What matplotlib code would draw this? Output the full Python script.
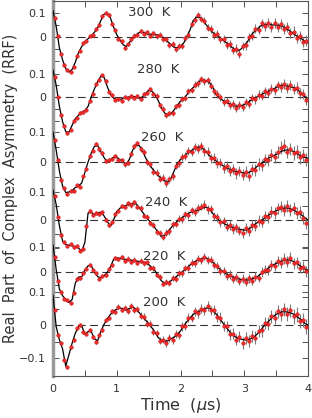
import matplotlib.pyplot as plt
import numpy as np

plt.rcParams['font.family'] = 'DejaVu Sans'
plt.rcParams['font.size'] = 8

temps = ['300  K', '280  K', '260  K', '240  K', '220  K', '200  K']

# fit curves, sampled every 0.05 us from 0 to 4 (units of 0.001)
fit_300 = [110, 45, -45, -95, -132, -146, -135, -105, -65, -40, -20, -7, 5, 20, 38, 68, 95, 98, 80, 42,
           10, -13, -32, -40, -22, -5, 8, 18, 20, 15, 12, 10, 10, 8, 2, -8, -20, -32, -42, -45,
           -38, -25, 0, 30, 68, 83, 82, 72, 52, 35, 20, 10, 2, -10, -20, -30, -42, -52, -58, -50,
           -35, -20, 5, 20, 32, 45, 50, 52, 52, 50, 50, 48, 45, 35, 28, 18, 8, 0, -8, -18, -25]
fit_280 = [115, 50, -40, -105, -148, -150, -120, -92, -78, -65, -58, -40, 0, 35, 65, 88, 85, 45, 12, -5,
           -12, -12, -5, -3, 0, 3, 0, -5, 0, 15, 28, 25, 10, -15, -45, -68, -77, -72, -55, -35,
           -18, -8, 10, 28, 40, 55, 68, 72, 70, 62, 45, 15, -2, -12, -20, -27, -33, -38, -40, -38,
           -32, -25, -15, -8, 0, 8, 15, 20, 27, 33, 40, 47, 50, 48, 45, 42, 38, 28, 15, 2, -13]
fit_260 = [100, 40, -30, -80, -102, -100, -95, -85, -80, -70, -35, 0, 30, 52, 55, 35, 15, 0, 8, 16,
           15, 8, 0, -8, 10, 40, 57, 55, 40, 15, -5, -20, -33, -45, -55, -63, -67, -55, -30, -5,
           8, 18, 28, 35, 42, 48, 50, 45, 35, 22, 13, 5, -3, -10, -17, -22, -27, -31, -33, -35,
           -37, -37, -32, -25, -15, -7, 0, 8, 15, 20, 25, 32, 37, 40, 40, 37, 32, 25, 18, 15, 13]
fit_240 = [107, 55, -20, -75, -88, -90, -92, -96, -100, -112, -80, 25, 28, 18, 25, 28, 15, -5, -22, 0,
           30, 42, 48, 53, 56, 58, 58, 45, 30, 12, 0, -15, -28, -45, -58, -55, -42, -28, -15, -5,
           5, 12, 20, 27, 30, 33, 37, 43, 46, 40, 25, 12, 0, -8, -15, -20, -25, -29, -32, -34,
           -36, -35, -28, -18, -10, -3, 3, 12, 20, 27, 33, 38, 41, 43, 42, 38, 32, 25, 18, 8, 0]
fit_220 = [108, 10, -68, -95, -110, -122, -110, -45, -20, -20, 8, 25, 25, 0, -18, -24, -15, -2, 20, 50,
           56, 55, 52, 50, 48, 46, 44, 42, 40, 38, 30, 18, 5, -15, -35, -46, -45, -35, -25, -15,
           -5, 5, 15, 28, 38, 45, 50, 54, 56, 50, 40, 28, 15, 5, -5, -12, -18, -23, -27, -30,
           -32, -32, -30, -25, -20, -10, 0, 10, 20, 28, 34, 40, 45, 48, 48, 45, 38, 30, 20, 12, 8]
fit_200 = [90, -5, -45, -72, -125, -90, -55, -25, -5, -2, -28, -20, -20, -42, -48, -20, 2, 18, 32, 42,
           48, 52, 48, 45, 50, 55, 48, 38, 26, 15, 5, -8, -22, -38, -46, -50, -48, -42, -37, -28,
           -18, -3, 10, 22, 32, 38, 42, 47, 51, 52, 45, 35, 24, 10, -3, -15, -27, -35, -40, -43,
           -45, -45, -42, -37, -28, -18, -5, 5, 15, 25, 32, 37, 40, 40, 38, 35, 30, 22, 15, 5, 0]

# measured points at 0.025 + 0.05*k us (units of 0.001)
data_300 = [80, 5, -72, -118, -136, -145, -126, -80, -58, -25, -18, 4, 8, 34, 48, 88, 102, 92, 55, 30,
            -8, -18, -45, -28, -10, 6, 10, 25, 14, 20, 6, 15, 3, 10, -8, -10, -32, -30, -52, -38,
            -36, -5, 10, 55, 72, 92, 75, 68, 38, 33, 8, 12, -10, -8, -32, -30, -55, -48, -70, -38,
            -35, -2, 5, 35, 30, 58, 45, 60, 42, 58, 40, 55, 32, 40, 15, 22, -5, 5, -20, -15]
data_280 = [85, 0, -78, -122, -155, -140, -100, -90, -66, -65, -55, -15, 12, 55, 72, 92, 70, 22, 8, -14,
            -8, -15, 2, -6, 5, -4, 3, -8, 12, 18, 32, 12, 4, -36, -50, -78, -70, -68, -40, -32,
            -8, -4, 24, 30, 52, 58, 76, 66, 72, 48, 25, 12, -2, -22, -15, -36, -30, -48, -34, -42,
            -22, -28, -5, -10, 10, 5, 24, 18, 36, 30, 50, 42, 56, 40, 50, 35, 40, 15, 14, -12]
data_260 = [72, 8, -60, -88, -106, -95, -96, -78, -82, -48, -22, 20, 38, 60, 42, 30, 4, 8, 10, 20,
            8, 6, -8, -2, 28, 52, 62, 45, 32, 0, -8, -32, -35, -55, -52, -70, -58, -48, -12, -3,
            18, 20, 36, 34, 50, 45, 54, 36, 34, 12, 14, -4, -2, -20, -14, -30, -24, -38, -30, -42,
            -32, -45, -24, -26, -6, -10, 9, 6, 24, 18, 35, 48, 55, 34, 44, 30, 35, 16, 22, 8]
data_240 = [85, 12, -52, -78, -94, -86, -98, -92, -110, -102, -20, 32, 18, 26, 22, 28, 0, -18, -6, 20,
            32, 50, 46, 60, 52, 64, 48, 42, 16, 10, -12, -18, -42, -48, -62, -45, -40, -16, -14, 5,
            4, 20, 18, 34, 28, 42, 48, 55, 38, 40, 14, 10, -8, -5, -24, -18, -32, -26, -38, -45,
            -30, -40, -18, -20, -2, -6, 14, 10, 30, 25, 42, 48, 36, 50, 35, 42, 24, 28, 8, -10]
data_220 = [62, -35, -78, -108, -112, -124, -82, -28, -25, -2, 14, 30, 8, -5, -26, -16, -12, 14, 30, 58,
            52, 60, 46, 54, 42, 50, 38, 46, 35, 40, 18, 16, -10, -20, -46, -40, -45, -25, -26, -5,
            -5, 16, 18, 38, 36, 54, 47, 62, 48, 50, 28, 26, 4, 5, -14, -10, -28, -20, -35, -26,
            -38, -25, -34, -18, -22, 0, 10, 8, 30, 26, 44, 38, 54, 42, 58, 36, 40, 18, 22, 4]
data_200 = [45, -30, -55, -105, -128, -68, -45, -10, 0, -20, -28, -15, -36, -50, -30, -14, 15, 22, 42, 40,
            55, 46, 52, 42, 58, 46, 48, 28, 25, 4, 4, -20, -25, -48, -44, -55, -40, -46, -28, -30,
            -4, -2, 22, 22, 42, 35, 50, 44, 58, 44, 46, 24, 22, -3, -4, -28, -26, -44, -36, -55,
            -40, -48, -34, -38, -18, -16, 6, 4, 26, 22, 42, 32, 47, 34, 44, 26, 32, 12, 15, -5]
errs = [4, 4, 4, 5, 5, 5, 5, 5, 6, 6, 6, 6, 6, 7, 7, 7, 7, 7, 8, 8,
        8, 8, 8, 9, 9, 9, 9, 10, 10, 10, 10, 11, 11, 11, 11, 12, 12, 12, 12, 13,
        13, 13, 13, 14, 14, 14, 14, 15, 15, 15, 15, 16, 16, 16, 16, 17, 17, 17, 17, 18,
        18, 18, 18, 19, 19, 19, 19, 20, 20, 20, 20, 21, 21, 21, 21, 22, 22, 22, 22, 22]

fits = [fit_300, fit_280, fit_260, fit_240, fit_220, fit_200]
datas = [data_300, data_280, data_260, data_240, data_220, data_200]

# stacking: vertical position of each zero line and its scale (in axis units per asymmetry unit)
zero_pos = [37, 97, 162, 220, 272, 325]
scale = [240, 235, 300, 280, 250, 330]
label_x = [1.17, 1.31, 1.375, 1.44, 1.41, 1.41]
label_y = [0.1, 0.115, 0.083, 0.064, 0.06, 0.067]

t_fit = np.arange(81) * 0.05
t_data = 0.025 + np.arange(80) * 0.05
err = np.array(errs) / 1000

fig = plt.figure(figsize=(3.12, 4.18), dpi=100)
ax = fig.add_axes([53 / 312, 42 / 418, 255 / 312, 375 / 418])

major_pos, major_lab, minor_pos = [], [], []
for i in range(6):
    z, s = zero_pos[i], scale[i]
    yd = -z + s * np.array(datas[i]) / 1000
    yf = -z + s * np.array(fits[i]) / 1000
    ax.axhline(-z, color='#333333', lw=0.8, ls=(0, (7, 4)), zorder=1)
    ax.errorbar(t_data, yd, yerr=s * err, fmt='none', ecolor='#7a7a7a',
                elinewidth=0.8, capsize=0, zorder=2)
    ax.plot(t_fit, yf, color='black', lw=0.9, zorder=3)
    ax.plot(t_data, yd, 'o', ms=2.6, color='#ee2a2a', mec='#c01010', mew=0.3, zorder=4)
    ax.text(label_x[i], -z + s * label_y[i], temps[i], fontsize=9.5, color='#333333',
            va='center', ha='left')
    major_pos += [-z + s * 0.1, -z]
    major_lab += ['0.1', '0']
    minor_pos += [-z + s * 0.05, -z - s * 0.05]
    if i == 5:
        major_pos.append(-z - s * 0.1)
        major_lab.append('\u22120.1')
    else:
        minor_pos.append(-z - s * 0.1)

ax.set_xlim(0, 4)
ax.set_ylim(-376, -1)
ax.set_xticks([0, 1, 2, 3, 4])
ax.set_xticks([0.5, 1.5, 2.5, 3.5], minor=True)
ax.set_yticks(major_pos)
ax.set_yticklabels(major_lab)
ax.set_yticks(minor_pos, minor=True)
ax.tick_params(which='both', direction='in', top=True, right=True, length=4,
               width=0.6, colors='#333333', labelcolor='#333333')
ax.tick_params(axis='y', pad=5)
ax.tick_params(axis='x', pad=6)
for side in ['top', 'right', 'bottom']:
    ax.spines[side].set_color('#555555')
    ax.spines[side].set_linewidth(0.8)
ax.spines['left'].set_color('#999999')
ax.spines['left'].set_linewidth(2.5)

ax.set_xlabel('Time  ($\\mu$s)', fontsize=11.5, color='#333333', labelpad=1)
ax.set_ylabel('Real  Part  of  Complex  Asymmetry  (RRF)', fontsize=10.5,
              color='#333333', labelpad=1)

fig.savefig('out.png', dpi=100)
